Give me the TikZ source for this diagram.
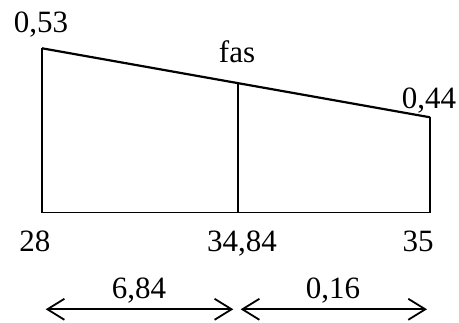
\documentclass[tikz,border=0pt]{standalone}
\usepackage{fontspec}
\setmainfont{Liberation Serif}
\usetikzlibrary{arrows.meta}
\begin{document}
\begin{tikzpicture}[x=1pt,y=1pt,
  lbl/.style={inner sep=0pt,anchor=base,font=\fontsize{31}{33}\selectfont},
  edge/.style={line width=1.7pt,line join=miter},
  topedge/.style={line width=2.2pt},
  dim/.style={line width=1.8pt,{Straight Barb[length=17pt,width=21pt,line width=1.8pt]}-{Straight Barb[length=17pt,width=21pt,line width=1.8pt]}}]
\useasboundingbox (0,0) rectangle (459,323);
% corners
\coordinate (bl) at (42,110.5);
\coordinate (tl) at (42,274.7);
\coordinate (bm) at (237.7,110.5);
\coordinate (tm) at (237.7,239.9);
\coordinate (br) at (430,110.5);
\coordinate (tr) at (430,205.7);
% trapezoid
\draw[edge] (tl) -- (bl) -- (br) -- (tr);
\draw[topedge] (tl) -- (tr);
\draw[edge] (bm) -- (tm);
% labels
\node[lbl] (v1) at (41,290.7) {0,53};
\node[lbl] (fas) at (237,260) {fas};
\node[lbl] (v2) at (429,214.7) {0,44};
\node[lbl] (x1) at (35,71.3) {28};
\node[lbl] (x2) at (242,71.3) {34,84};
\node[lbl] (x3) at (418,71.3) {35};
% dimension arrows
\coordinate (a1) at (45.7,13.7);
\coordinate (a2) at (233.3,13.7);
\coordinate (a3) at (240.7,13.7);
\coordinate (a4) at (427,13.7);
\draw[dim] (a1) -- (a2);
\draw[dim] (a3) -- (a4);
\node[lbl] (d1) at (139,24.7) {6,84};
\node[lbl] (d2) at (333,24.7) {0,16};
\end{tikzpicture}
\end{document}
